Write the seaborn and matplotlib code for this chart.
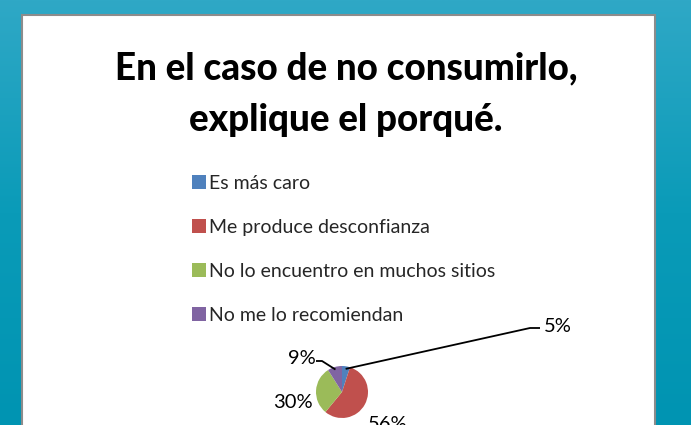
import numpy as np
import seaborn as sns
import matplotlib.pyplot as plt
from matplotlib.patches import Rectangle, Patch

sns.set_theme(style="white")
plt.rcParams['font.family'] = ['Lato', 'DejaVu Sans']

# data
categorias = ["Es más caro", "Me produce desconfianza",
              "No lo encuentro en muchos sitios", "No me lo recomiendan"]
valores = [5, 56, 30, 9]
etiquetas = ["5%", "56%", "30%", "9%"]
colores = ["#4f81bd", "#c0504d", "#9bbb59", "#8064a2"]

W, H = 691, 425
fig = plt.figure(figsize=(W / 100, H / 100), dpi=100)

# teal gradient background
bg = fig.add_axes([0, 0, 1, 1])
grad = np.linspace(0, 1, 256).reshape(-1, 1)
cmap = sns.blend_palette(["#2fa8c6", "#0a9bb8", "#0094b2"], as_cmap=True)
bg.imshow(grad, aspect="auto", cmap=cmap, extent=[0, 1, 0, 1], origin="upper")
bg.set_axis_off()

# white panel
bg.add_patch(Rectangle((22 / W, -0.01), (655 - 22) / W, (H - 15) / H + 0.01,
                       transform=bg.transAxes, facecolor="white",
                       edgecolor="#8c8c8c", lw=1.5, zorder=3))

fig.text(346 / W, 1 - 68 / H, "En el caso de no consumirlo,", ha="center",
         va="center", fontsize=26.5, fontweight="black", color="black")
fig.text(346 / W, 1 - 120 / H, "explique el porqué.", ha="center",
         va="center", fontsize=26.5, fontweight="black", color="black")

# pie
cx, cy, r = 342, 392, 26
ax = fig.add_axes([(cx - r) / W, 1 - (cy + r) / H, 2 * r / W, 2 * r / H])
wedges, _ = ax.pie(valores, colors=colores, startangle=90, counterclock=False,
                   radius=1, wedgeprops=dict(linewidth=0))
ax.set_xlim(-1, 1)
ax.set_ylim(-1, 1)
ax.set_aspect("equal")
ax.set_axis_off()

# label placements (pixels) and leader lines: knee + end of short horizontal
pos = [(558, 326), (388, 425), (293, 402), (302, 358)]
guia = [((530, 328), (540, 328)), None, None, ((322, 361), (316, 361))]


def d(px, py):
    return (px - cx) / r, (cy - py) / r


for w, lab, p, g in zip(wedges, etiquetas, pos, guia):
    tx, ty = d(*p)
    ax.text(tx, ty, lab, ha="center", va="center", fontsize=14.5,
            color="black", clip_on=False)
    if g is not None:
        ang = np.deg2rad((w.theta1 + w.theta2) / 2)
        ex, ey = np.cos(ang) * 0.9, np.sin(ang) * 0.9
        kx, ky = d(*g[0])
        hx, hy = d(*g[1])
        ax.plot([ex, kx, hx], [ey, ky, hy], color="black", lw=1.3,
                clip_on=False, solid_joinstyle="round",
                solid_capstyle="butt")

handles = [Patch(facecolor=c, edgecolor="none") for c in colores]
fig.legend(handles, categorias, loc="upper left",
           bbox_to_anchor=(182 / W, 1 - 165 / H), frameon=False,
           fontsize=14, labelspacing=1.39, handlelength=0.75,
           handleheight=0.75, handletextpad=0.15, borderpad=0)

fig.savefig("out.png", dpi=100)
